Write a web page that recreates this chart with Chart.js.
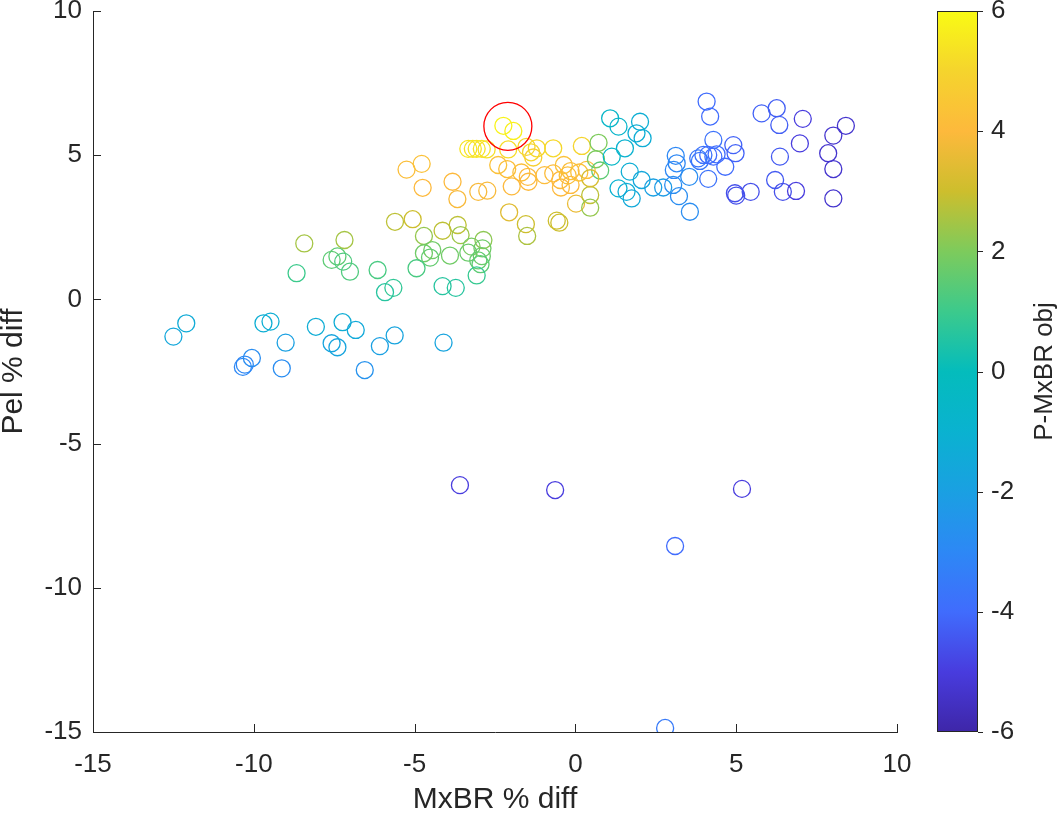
<!DOCTYPE html>
<html>
<head>
<meta charset="utf-8">
<script src="https://cdn.jsdelivr.net/npm/chart.js@4.4.1/dist/chart.umd.min.js"></script>
<style>
  html, body { margin: 0; padding: 0; background: #fff; }
  #wrap { position: relative; width: 1059px; height: 818px; }
</style>
</head>
<body>
<div id="wrap"><canvas id="scatterChart"></canvas></div>
<script>
// ======================
// Data
// ======================
const xVals = [
  -12.5, -12.1, -10.34, -10.28, -10.06, -9.70, -9.48, -9.01, -9.13, -8.07, -7.24, -6.83, -7.58, -7.40, -6.55, -6.08, -5.62, -4.10,
  -8.43, -7.18, -8.67, -7.58, -7.40, -7.22, -7.01, -6.15, -5.92, -5.66,
  -5.61, -5.06, -4.71, -4.13, -3.66, -3.57, -4.71, -4.45, -4.52, -3.90, -3.33, -3.23, -2.86, -2.89, -2.91, -3.02, -2.95, -4.94, -3.07, -4.13, -3.72,
  -1.54, -1.50, -0.58, -0.50, -2.06,
  -2.24, -1.93, -3.33, -3.19, -3.07, -2.91, -2.76, -2.09, -1.52, -1.38, -1.31, -1.20, -0.69, 0.20,
  -2.40, -2.12, -1.68, -1.48, -1.46, -0.96, -0.69, -0.47, -0.45, -0.24, -0.15, -0.36,
  -5.25, -4.78, -4.75, -3.82, -3.67, -3.02, -2.74, -1.98, -0.15, 0.12, 0.35, 0.02, 0.46, 0.46, 0.72, 0.64, 0.77, 0.46,
  1.08, 1.34, 2.01, 1.90, 2.09, 1.54, 1.13, 1.69, 2.06, 1.34, 1.59, 1.75, 2.42, 2.73, 3.04, 3.12, 3.15, 3.06, 3.54, 3.22, 3.56,
  4.08, 4.19, 4.29, 3.87, 3.98, 4.13, 4.29, 4.39, 3.82, 4.13, 4.66, 4.91, 4.98, 4.96, 5.00, 5.45,
  5.79, 6.26, 6.34, 7.07, 6.98, 8.41, 8.02, 7.86, 8.02, 8.02, 6.36, 6.21, 6.45, 6.86,
  -3.59, -0.63, 5.18, 3.10, 2.79
];
const yVals = [
  -1.29, -0.83, -2.34, -2.26, -2.03, -0.83, -0.77, -1.50, -2.39, -0.95, -0.79, -1.06, -1.52, -1.66, -2.45, -1.62, -1.25, -1.50,
  1.94, 2.06, 0.91, 1.37, 1.49, 1.31, 0.96, 1.02, 0.25, 0.40,
  2.69, 2.78, 2.20, 2.38, 2.58, 2.23, 1.60, 1.71, 1.45, 1.52, 1.62, 1.83, 2.06, 1.77, 1.50, 1.35, 1.22, 1.08, 0.83, 0.46, 0.40,
  2.61, 2.20, 2.73, 2.66, 3.02,
  6.02, 5.84, 5.22, 5.22, 5.22, 5.22, 5.20, 5.20, 5.29, 5.10, 4.92, 5.24, 5.24, 5.32,
  4.66, 4.52, 4.40, 4.25, 4.08, 4.31, 4.37, 4.14, 3.88, 4.30, 3.97, 4.66,
  4.50, 4.70, 3.87, 4.08, 3.48, 3.73, 3.77, 3.92, 4.45, 4.40, 4.49, 3.32, 3.62, 3.18, 5.43, 4.86, 4.47, 4.20,
  6.28, 5.99, 6.16, 5.76, 5.59, 5.24, 4.95, 4.43, 4.14, 3.85, 3.73, 3.50, 3.88, 3.88, 3.97, 4.98, 4.72, 4.49, 4.25, 3.58, 3.04,
  6.86, 6.34, 5.53, 4.80, 5.01, 5.01, 4.95, 5.03, 4.89, 4.18, 4.60, 5.35, 5.07, 3.68, 3.60, 3.73,
  6.45, 6.63, 6.05, 6.26, 5.41, 6.02, 5.68, 5.07, 4.52, 3.50, 4.95, 4.14, 3.73, 3.76,
  -6.44, -6.61, -6.57, -8.55, -14.86
];
// P-MxBR obj (colour value of each point)
const cVals = [
  -1.6, -1.4, -3.0, -3.0, -2.8, -1.2, -1.2, -2.0, -2.8, -1.3, -1.3, -1.5, -1.8, -1.8, -2.6, -2.0, -1.8, -1.8,
  2.5, 2.5, 1.0, 1.5, 1.5, 1.3, 1.3, 1.2, 0.6, 0.8,
  2.8, 3.0, 2.3, 2.8, 2.8, 2.4, 1.8, 1.8, 1.6, 1.8, 1.7, 1.9, 2.2, 1.8, 1.7, 1.6, 1.5, 1.2, 0.9, 0.6, 0.6,
  3.0, 2.6, 3.0, 3.0, 3.4,
  5.8, 5.7, 5.4, 5.4, 5.4, 5.4, 5.3, 5.2, 5.0, 5.0, 4.8, 5.1, 5.1, 5.0,
  4.3, 4.2, 4.2, 4.0, 4.0, 4.1, 4.1, 4.0, 4.0, 4.2, 4.0, 4.3,
  4.2, 4.3, 4.0, 4.0, 3.9, 3.9, 3.9, 4.0, 4.2, 4.3, 4.2, 3.6, 2.8, 2.3, 2.0, 2.0, 1.5, 3.2,
  -0.6, -0.7, -1.2, -1.2, -1.3, -1.0, -0.5, -1.2, -1.6, -1.0, -1.3, -1.5, -2.0, -2.2, -2.8, -3.0, -3.0, -3.0, -2.8, -2.8, -2.8,
  -4.0, -4.0, -3.8, -3.6, -3.8, -4.0, -4.0, -4.0, -3.6, -3.8, -4.0, -4.2, -4.2, -4.6, -4.6, -4.6,
  -4.2, -4.3, -4.3, -5.0, -5.0, -5.3, -5.3, -5.3, -5.3, -5.3, -4.4, -4.4, -4.6, -5.0,
  -5.0, -5.0, -5.0, -4.0, -3.5
];
// highlighted point (red ring)
const highlightX = [-2.1];
const highlightY = [6.0];

const xTicks = [-15, -10, -5, 0, 5, 10];
const yTicks = [-15, -10, -5, 0, 5, 10];
const cbTicks = [-6, -4, -2, 0, 2, 4, 6];
const cMin = -6, cMax = 6;

// ======================
// Colormap (parula-like)
// ======================
const cmapStops = [
  [-6, [62, 38, 168]],
  [-5, [72, 60, 222]],
  [-4, [64, 108, 253]],
  [-3, [45, 136, 245]],
  [-2, [26, 160, 226]],
  [-1, [10, 178, 208]],
  [0, [4, 188, 188]],
  [1, [60, 202, 140]],
  [2, [125, 203, 92]],
  [3, [205, 190, 45]],
  [4, [253, 185, 60]],
  [5, [245, 212, 45]],
  [6, [249, 251, 20]]
];

function colorFor(v) {
  if (v <= cmapStops[0][0]) return rgb(cmapStops[0][1]);
  for (let i = 1; i < cmapStops.length; i++) {
    const [v1, c1] = cmapStops[i];
    const [v0, c0] = cmapStops[i - 1];
    if (v <= v1) {
      const t = (v - v0) / (v1 - v0);
      return rgb(c0.map((c, k) => c + (c1[k] - c) * t));
    }
  }
  return rgb(cmapStops[cmapStops.length - 1][1]);
}
function rgb(c) {
  return `rgb(${Math.round(c[0])},${Math.round(c[1])},${Math.round(c[2])})`;
}

const FONT = "'Liberation Sans', Arial, Helvetica, sans-serif";
const TEXT = '#262626';

// ======================
// Plugin: inward ticks + colorbar
// ======================
const decorPlugin = {
  id: 'decor',
  afterDraw(chart) {
    const ctx = chart.ctx;
    const area = chart.chartArea;
    const xs = chart.scales.x, ys = chart.scales.y;
    ctx.save();
    ctx.strokeStyle = TEXT;
    ctx.lineWidth = 1;
    ctx.beginPath();
    xTicks.forEach(v => {
      const px = Math.round(xs.getPixelForValue(v)) + 0.5;
      ctx.moveTo(px, area.bottom);
      ctx.lineTo(px, area.bottom - 8);
    });
    yTicks.forEach(v => {
      const py = Math.round(ys.getPixelForValue(v)) + 0.5;
      ctx.moveTo(area.left, py);
      ctx.lineTo(area.left + 8, py);
    });
    ctx.stroke();

    // colorbar
    const left = area.right + 40, width = 41;
    const top = area.top, bottom = area.bottom;
    const grad = ctx.createLinearGradient(0, bottom, 0, top);
    cmapStops.forEach(s => grad.addColorStop((s[0] - cMin) / (cMax - cMin), rgb(s[1])));
    ctx.fillStyle = grad;
    ctx.fillRect(left, top, width, bottom - top);
    ctx.strokeStyle = TEXT;
    ctx.strokeRect(left + 0.5, top + 0.5, width - 1, bottom - top - 1);

    ctx.fillStyle = TEXT;
    ctx.font = `26px ${FONT}`;
    ctx.textAlign = 'left';
    ctx.textBaseline = 'middle';
    ctx.beginPath();
    cbTicks.forEach(v => {
      const py = bottom - (v - cMin) / (cMax - cMin) * (bottom - top);
      ctx.fillText(String(v), left + width + 13, py);
      ctx.moveTo(left + width, Math.round(py) + 0.5);
      ctx.lineTo(left + width + 5, Math.round(py) + 0.5);
    });
    ctx.stroke();

    ctx.translate(chart.width - 14, (top + bottom) / 2);
    ctx.rotate(-Math.PI / 2);
    ctx.textAlign = 'center';
    ctx.font = `26px ${FONT}`;
    ctx.fillText('P-MxBR obj', 0, 0);
    ctx.restore();
  }
};

// ======================
// Chart
// ======================
const ctx = document.getElementById('scatterChart').getContext('2d');
const scatterChart = new Chart(ctx, {
  type: 'scatter',
  data: {
    datasets: [
      {
        label: 'highlight',
        data: highlightX.map((x, i) => ({ x, y: highlightY[i] })),
        pointRadius: 24,
        pointHoverRadius: 24,
        pointBorderWidth: 1.3,
        pointBorderColor: '#ff0000',
        pointBackgroundColor: 'rgba(0,0,0,0)',
        order: 0
      },
      {
        label: 'runs',
        data: xVals.map((x, i) => ({ x, y: yVals[i] })),
        pointRadius: 8.5,
        pointHoverRadius: 8.5,
        pointBorderWidth: 1.3,
        pointBorderColor: cVals.map(colorFor),
        pointBackgroundColor: 'rgba(0,0,0,0)',
        order: 1
      }
    ]
  },
  options: {
    responsive: true,
    maintainAspectRatio: false,
    animation: false,
    layout: { autoPadding: false, padding: { top: 11, right: 162, left: 0, bottom: 0 } },
    plugins: {
      legend: { display: false },
      tooltip: { enabled: false }
    },
    scales: {
      x: {
        type: 'linear',
        min: -15,
        max: 10,
        afterBuildTicks: s => { s.ticks = xTicks.map(v => ({ value: v })); },
        afterFit: s => { s.height = 86; s.paddingLeft = 0; s.paddingRight = 0; },
        grid: { drawOnChartArea: false, drawTicks: false },
        border: { display: true, color: TEXT, width: 1 },
        ticks: { color: TEXT, font: { family: FONT, size: 26 }, padding: 17, autoSkip: false, maxRotation: 0 },
        title: { display: true, text: 'MxBR % diff', color: TEXT, font: { family: FONT, size: 30 }, padding: 0 }
      },
      y: {
        type: 'linear',
        min: -15,
        max: 10,
        afterBuildTicks: s => { s.ticks = yTicks.map(v => ({ value: v })); },
        afterFit: s => { s.width = 93; s.paddingTop = 0; s.paddingBottom = 0; },
        grid: { drawOnChartArea: false, drawTicks: false },
        border: { display: true, color: TEXT, width: 1 },
        ticks: { color: TEXT, font: { family: FONT, size: 26 }, padding: 11, autoSkip: false },
        title: { display: true, text: 'Pel % diff', color: TEXT, font: { family: FONT, size: 30, lineHeight: 0.9 }, padding: 0 }
      }
    }
  },
  plugins: [decorPlugin]
});
</script>
</body>
</html>
